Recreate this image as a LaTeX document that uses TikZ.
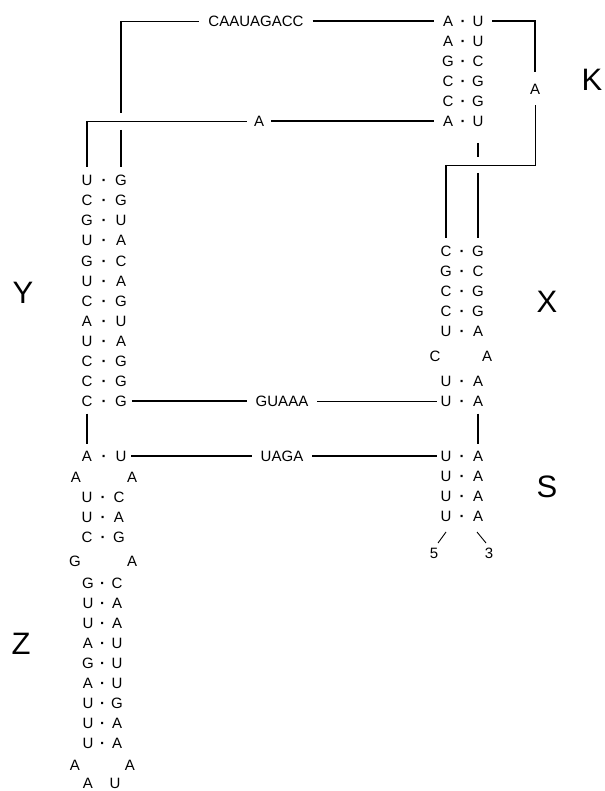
\documentclass[tikz,border=0pt]{standalone}
\usepackage{fontspec}
\setmainfont{Liberation Sans}
\usepackage{tikz}
\usetikzlibrary{positioning}
% one base pair: name, y, x left, x right, left letter, right letter
\newcommand{\bpair}[6]{%
  \node[nt] (#1a) at (#3,#2) {#5};
  \node[nt] (#1b) at (#4,#2) {#6};
  \node[nt] (#1d) at ({(#3+#4)/2},#2) {\textbf{·}};
}

\begin{document}
\begin{tikzpicture}[
    x=1pt, y=-1pt,
    nt/.style={inner sep=1pt, outer xsep=8pt, outer ysep=6pt, text height=11pt,
               text depth=0pt, font=\fontsize{15}{15}\selectfont},
    stemlabel/.style={inner sep=1pt, font=\fontsize{31}{31}\selectfont},
    bold/.style={line width=1.7pt},
    fine/.style={line width=0.9pt},
]
\useasboundingbox (0,0) rectangle (604,791);
% stem K
\bpair{K1}{21}{448}{478}{A}{U}
\bpair{K2}{41}{448}{478}{A}{U}
\bpair{K3}{61}{448}{478}{G}{C}
\bpair{K4}{81}{448}{478}{C}{G}
\bpair{K5}{101}{448}{478}{C}{G}
\bpair{K6}{121}{448}{478}{A}{U}
% stem Y
\bpair{Y1}{180}{87}{121}{U}{G}
\bpair{Y2}{200}{87}{121}{C}{G}
\bpair{Y3}{220}{87}{121}{G}{U}
\bpair{Y4}{240}{87}{121}{U}{A}
\bpair{Y5}{261}{87}{121}{G}{C}
\bpair{Y6}{281}{87}{121}{U}{A}
\bpair{Y7}{301}{87}{121}{C}{G}
\bpair{Y8}{321}{87}{121}{A}{U}
\bpair{Y9}{341}{87}{121}{U}{A}
\bpair{Y10}{361}{87}{121}{C}{G}
\bpair{Y11}{381}{87}{121}{C}{G}
\bpair{Y12}{401}{87}{121}{C}{G}
% stem X
\bpair{X1}{251}{446}{478}{C}{G}
\bpair{X2}{271}{446}{478}{G}{C}
\bpair{X3}{291}{446}{478}{C}{G}
\bpair{X4}{311}{446}{478}{C}{G}
\bpair{X5}{331}{446}{478}{U}{A}
\node[nt] (Xc) at (435,356) {C};
\node[nt] (Xa) at (487,356) {A};
\bpair{X6}{381}{446}{478}{U}{A}
\bpair{X7}{401}{446}{478}{U}{A}
% stem S
\bpair{S1}{456}{446}{478}{U}{A}
\bpair{S2}{476}{446}{478}{U}{A}
\bpair{S3}{496}{446}{478}{U}{A}
\bpair{S4}{516}{446}{478}{U}{A}
\node[nt] (five) at (434,553) {5};
\node[nt] (three) at (489,553) {3};
% stem Z
\bpair{Z1}{456}{87}{121}{A}{U}
\node[nt] (Zl1) at (76,477) {A};
\node[nt] (Zr1) at (132,477) {A};
\bpair{Z2}{497}{87}{119}{U}{C}
\bpair{Z3}{517}{87}{119}{U}{A}
\bpair{Z4}{537}{87}{119}{C}{G}
\node[nt] (Zl2) at (75,561) {G};
\node[nt] (Zr2) at (132,561) {A};
\bpair{Z5}{583}{88}{117}{G}{C}
\bpair{Z6}{603}{88}{117}{U}{A}
\bpair{Z7}{623}{88}{117}{U}{A}
\bpair{Z8}{643}{88}{117}{A}{U}
\bpair{Z9}{663}{88}{117}{G}{U}
\bpair{Z10}{683}{88}{117}{A}{U}
\bpair{Z11}{703}{88}{117}{U}{G}
\bpair{Z12}{723}{88}{117}{U}{A}
\bpair{Z13}{743}{88}{117}{U}{A}
\node[nt] (Zl3) at (75,765) {A};
\node[nt] (Zr3) at (130,765) {A};
\node[nt, outer ysep=0pt] (Zl4) at (88,783) {A};
\node[nt, outer ysep=0pt] (Zr4) at (115,783) {U};
% single stranded linkers
\node[nt] (seqC) at (256,21) {CAAUAGACC};
\node[nt, outer xsep=6pt] (seqA) at (259,121) {A};
\node[nt, outer ysep=10pt] (seqK) at (535,89) {A};
\node[nt] (seqG) at (282,401) {GUAAA};
\node[nt] (seqU) at (282,456) {UAGA};
% helix letters
\node[stemlabel] (labK) at (592,80) {K};
\node[stemlabel] (labY) at (23,293) {Y};
\node[stemlabel] (labX) at (547,302) {X};
\node[stemlabel] (labS) at (547,487) {S};
\node[stemlabel] (labZ) at (21,644) {Z};
% corners and free ends
\coordinate (topL) at (121,21);
\coordinate (topR) at (535,21);
\coordinate (midL) at (87,121);
\coordinate (midR) at (535,165);
\coordinate (midX) at (446,165);
\coordinate (gapY1) at (121,113);
\coordinate (gapY2) at (121,130);
\coordinate (gapK1) at (478,143);
\coordinate (gapK2) at (478,157);
\coordinate (gapX) at (478,173);
\coordinate (tail5) at (438,543);
\coordinate (tail3) at (486,543);
\coordinate (head5) at (446,532);
\coordinate (head3) at (477,532);
% connectors
\draw[fine] (topL) -- (seqC);
\draw[bold] (topL) -- (gapY1);
\draw[bold] (gapY2) -- (Y1b);
\draw[bold] (seqC) -- (K1a);
\draw[bold] (K1b) -- (topR) -- (seqK);
\draw[fine] (seqK) -- (midR) -- (midX);
\draw[bold] (midX) -- (X1a);
\draw[fine] (midL) -- (seqA);
\draw[bold] (midL) -- (Y1a);
\draw[bold] (seqA) -- (K6a);
\draw[bold] (gapK1) -- (gapK2);
\draw[bold] (gapX) -- (X1b);
\draw[bold] (Y12a) -- (Z1a);
\draw[bold, shorten <=-4pt] (Y12b) -- (seqG);
\draw[fine, shorten >=-5pt] (seqG) -- (X7a);
\draw[bold] (X7b) -- (S1b);
\draw[bold, shorten <=-4pt] (Z1b) -- (seqU);
\draw[bold, shorten >=-5pt] (seqU) -- (S1a);
\draw[fine] (head5) -- (tail5);
\draw[fine] (head3) -- (tail3);
\end{tikzpicture}
\end{document}
